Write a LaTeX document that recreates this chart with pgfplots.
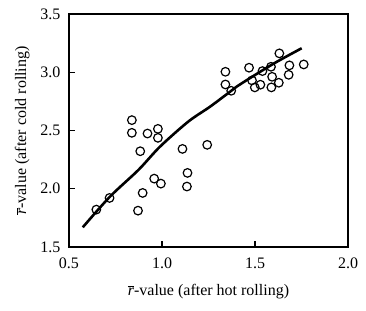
\documentclass[border=0pt]{standalone}
\usepackage{fontspec}
\setmainfont{Liberation Serif}
\usepackage{pgfplots}
\pgfplotsset{compat=1.18}
\begin{document}
\fontsize{16}{18}\selectfont
\begin{tikzpicture}
\begin{axis}[
  at={(0,0)}, anchor=south west,
  width=279pt, height=233pt, scale only axis,
  xmin=0.5, xmax=2.0, ymin=1.5, ymax=3.5,
  xtick={0.5,1.0,1.5,2.0}, ytick={1.5,2.0,2.5,3.0,3.5},
  tick pos=left, tick align=inside,
  major tick length=6pt,
  axis line style={line width=1.1pt},
  every tick/.style={line width=1.1pt, black},
  /pgf/number format/assume math mode=true,
  /pgf/number format/.cd, fixed, fixed zerofill, precision=1, /pgfplots/.cd,
  ticklabel style={font=\fontsize{16}{18}\selectfont},
  xticklabel style={yshift=-5pt},
  yticklabel style={xshift=-3pt},
  xlabel={\ensuremath{\overline{\mbox{\textit{r}}}}-value (after hot rolling)},
  ylabel={\ensuremath{\overline{\mbox{\textit{r}}}}-value (after cold rolling)},
  label style={font=\fontsize{16}{18}\selectfont},
  xlabel style={yshift=-5pt},
  ylabel style={yshift=0pt},
]
\addplot[line width=2.6pt, black, smooth, no marks] coordinates {
(0.574,1.669) (0.720,1.932) (0.873,2.161) (0.989,2.361) (1.141,2.576)
(1.258,2.704) (1.366,2.833) (1.419,2.895) (1.598,3.072) (1.751,3.206)
};
\addplot[only marks, mark=o, mark size=4.3pt, mark options={line width=1.2pt, black, fill=white}] coordinates {
(0.647,1.821) (0.718,1.921) (0.838,2.589) (0.838,2.480) (0.883,2.322)
(0.922,2.474) (0.978,2.514) (0.978,2.437) (0.896,1.964) (0.871,1.812)
(0.958,2.087) (0.994,2.044) (1.110,2.342) (1.137,2.136) (1.134,2.019)
(1.243,2.377) (1.341,3.004) (1.341,2.895) (1.372,2.841) (1.468,3.039)
(1.484,2.930) (1.499,2.870) (1.540,3.010) (1.529,2.893) (1.586,3.047)
(1.592,2.961) (1.588,2.870) (1.631,3.162) (1.628,2.910) (1.685,3.059)
(1.681,2.978) (1.762,3.067)
};
\end{axis}
\pgfresetboundingbox
\path (-69pt,-63pt) rectangle (297pt,247pt);
\end{tikzpicture}
\end{document}
